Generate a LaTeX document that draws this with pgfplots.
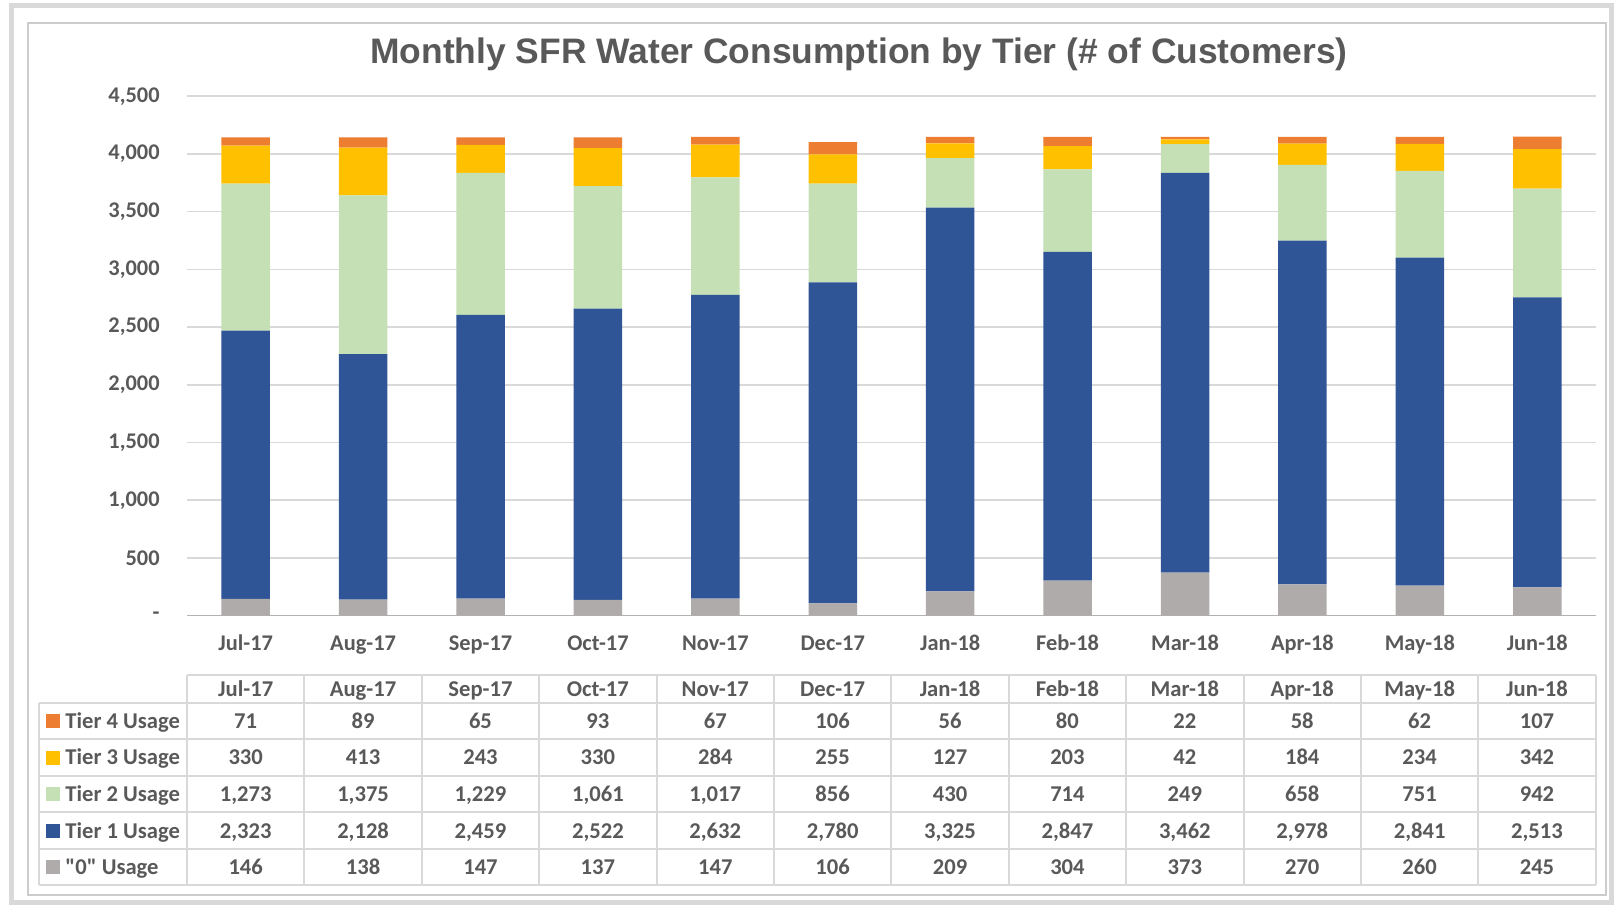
\documentclass[border=0pt]{standalone}
\usepackage{pgfplots}
\pgfplotsset{compat=1.18}
\usepackage{pgfplotstable}
\usepackage{fontspec}
\setmainfont{Carlito}[Ligatures=TeXOff]
\newfontfamily\titlefont{Liberation Sans}
\definecolor{cz}{HTML}{AFABAB}
\definecolor{c1}{HTML}{2F5597}
\definecolor{c2}{HTML}{C5E0B4}
\definecolor{c3}{HTML}{FFC000}
\definecolor{c4}{HTML}{ED7D31}
\definecolor{txt}{HTML}{595959}
\definecolor{grd}{HTML}{D9D9D9}
\pgfkeys{/pgf/number format/.cd, 1000 sep={,}, assume math mode=true}

\pgfplotstableread{
x month zero t1 t2 t3 t4
0 Jul-17 146 2323 1273 330 71
1 Aug-17 138 2128 1375 413 89
2 Sep-17 147 2459 1229 243 65
3 Oct-17 137 2522 1061 330 93
4 Nov-17 147 2632 1017 284 67
5 Dec-17 106 2780 856 255 106
6 Jan-18 209 3325 430 127 56
7 Feb-18 304 2847 714 203 80
8 Mar-18 373 3462 249 42 22
9 Apr-18 270 2978 658 184 58
10 May-18 260 2841 751 234 62
11 Jun-18 245 2513 942 342 107
}\data

\begin{document}
\begin{tikzpicture}
\begin{scope}[x=0.5pt,y=-0.5pt]
\path[use as bounding box] (0,0) rectangle (1615,908);
\draw[color=grd, line width=2.5pt] (11,6) rectangle (1611,902);
\draw[color=black!20, line width=0.8pt] (28,23) rectangle (1606,895);
\node[font=\titlefont\bfseries\fontsize{17.7}{20}\selectfont, text=txt] at (859,54) {Monthly SFR Water Consumption by Tier (\# of Customers)};
\end{scope}

\begin{axis}[
  at={(93.5pt,-307.8pt)}, anchor=south west,
  scale only axis, width=704.5pt, height=259.7pt,
  xmin=-0.5, xmax=11.5, ymin=0, ymax=4500,
  ybar stacked, bar width=24.25pt,
  axis line style={draw=none},
  major tick length=0pt,
  ymajorgrids, grid style={color=grd, line width=0.75pt},
  xtick={0,...,11},
  xticklabels from table={\data}{month},
  ytick={0,500,...,4500},
  yticklabels={{-\hspace{0.9em}},500,{1,000},{1,500},{2,000},{2,500},{3,000},{3,500},{4,000},{4,500}},
  ticklabel style={font=\bfseries\fontsize{11.2}{13}\selectfont, text=txt, inner sep=0pt},
  yticklabel style={anchor=east, xshift=-13.5pt},
  xticklabel style={anchor=base, yshift=-17.3pt},
  clip=false,
]
\addplot[fill=cz, draw=none] table[x=x, y=zero] {\data};
\addplot[fill=c1, draw=none] table[x=x, y=t1] {\data};
\addplot[fill=c2, draw=none] table[x=x, y=t2] {\data};
\addplot[fill=c3, draw=none] table[x=x, y=t3] {\data};
\addplot[fill=c4, draw=none] table[x=x, y=t4] {\data};
\draw[color=black!30, line width=0.75pt] (rel axis cs:0,0) -- (rel axis cs:1,0);
\end{axis}

\begin{scope}[x=0.5pt,y=-0.5pt, tbl/.style={font=\bfseries\fontsize{11.3}{13}\selectfont, text=txt, inner sep=0pt, anchor=base}]
\begin{scope}[color=grd, line width=1pt]
\draw (187,675) -- (1595.7,675);
\foreach \yy in {702.7,739.3,775.7,812.3,849,885} { \draw (39,\yy) -- (1595.7,\yy); }
\draw (39,702.7) -- (39,885);
\foreach \k in {0,...,12} { \draw ({187+117.39*\k},675) -- ({187+117.39*\k},885); }
\end{scope}
\foreach \i in {0,...,11} {
  \pgfplotstablegetelem{\i}{month}\of\data
  \node[tbl] at ({187+117.39*(\i+0.5)},696) {\pgfplotsretval};
}
\foreach \col/\yc in {t4/721, t3/757.5, t2/794, t1/830.7, zero/867} {
  \foreach \i in {0,...,11} {
    \pgfplotstablegetelem{\i}{\col}\of\data
    \node[tbl] at ({187+117.39*(\i+0.5)},\yc+7.3) {\pgfmathprintnumber{\pgfplotsretval}};
  }
}
\foreach \c/\lab/\yc in {c4/Tier 4 Usage/721, c3/Tier 3 Usage/757.5, c2/Tier 2 Usage/794, c1/Tier 1 Usage/830.7, cz/{"0" Usage}/867} {
  \fill[\c] (46,\yc-7) rectangle (60,\yc+7);
  \node[tbl, anchor=base west] at (65,\yc+7.3) {\lab};
}
\end{scope}
\end{tikzpicture}
\end{document}
